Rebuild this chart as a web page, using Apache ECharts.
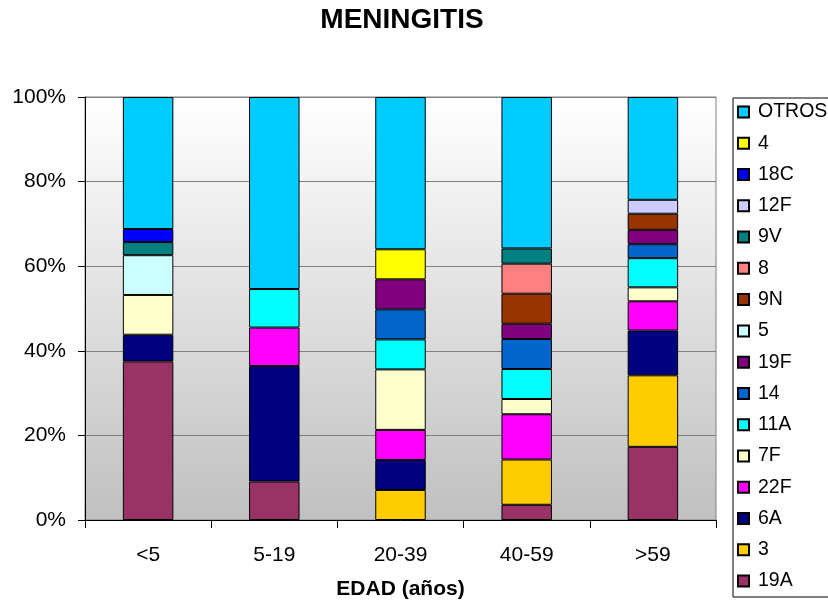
<!DOCTYPE html>
<html>
<head>
<meta charset="utf-8">
<script src="https://cdn.jsdelivr.net/npm/echarts@6/dist/echarts.min.js"></script>
<style>html,body{margin:0;padding:0;background:#fff}#c{width:828px;height:600px}</style>
</head>
<body>
<div id="c"></div>
<script>
var categories = ['<5', '5-19', '20-39', '40-59', '>59'];
var yTicks = [0, 20, 40, 60, 80, 100];
// stacking order bottom -> top
var serotypes = ['19A', '3', '6A', '22F', '7F', '11A', '14', '19F', '5', '9N', '8', '9V', '12F', '18C', '4', 'OTROS'];
var v19A  = [37.5, 9.1, null, 3.6, 17.3];
var v3    = [null, null, 7.1, 10.7, 16.9];
var v6A   = [6.3, 27.3, 7.1, null, 10.6];
var v22F  = [null, 9.1, 7.1, 10.7, 6.9];
var v7F   = [9.4, null, 14.3, 3.6, 3.3];
var v11A  = [null, 9.1, 7.1, 7.1, 6.9];
var v14   = [null, null, 7.1, 7.1, 3.3];
var v19F  = [null, null, 7.1, 3.6, 3.4];
var v5    = [9.4, null, null, null, null];
var v9N   = [null, null, null, 7.1, 3.8];
var v8    = [null, null, null, 7.1, null];
var v9V   = [3.1, null, null, 3.6, null];
var v12F  = [null, null, null, null, 3.3];
var v18C  = [3.1, null, null, null, null];
var v4    = [null, null, 7.1, null, null];
var vOTROS = [31.2, 45.4, 36.0, 35.8, 24.3];
var values = [v19A, v3, v6A, v22F, v7F, v11A, v14, v19F, v5, v9N, v8, v9V, v12F, v18C, v4, vOTROS];
var colors = ['#993366', '#FFCC00', '#000080', '#FF00FF', '#FFFFCC', '#00FFFF', '#0066CC', '#800080', '#CCFFFF', '#993300', '#FF8080', '#008080', '#CCCCFF', '#0000FF', '#FFFF00', '#00CCFF'];

var FONT = '"Liberation Sans", Arial, sans-serif';
var chart = echarts.init(document.getElementById('c'), null, {renderer: 'canvas'});

var series = serotypes.map(function (name, i) {
  return {
    name: name,
    type: 'bar',
    stack: 'total',
    barWidth: '40%',
    data: values[i],
    itemStyle: {color: colors[i], borderColor: '#000', borderWidth: 1},
    emphasis: {disabled: true}
  };
});

chart.setOption({
  animation: false,
  textStyle: {fontFamily: FONT},
  title: {
    text: 'MENINGITIS',
    left: 402,
    textAlign: 'center',
    top: 6,
    padding: 0,
    textStyle: {fontFamily: FONT, fontSize: 28, fontWeight: 'bold', color: '#000'}
  },
  grid: {
    left: 85, right: 112, top: 97, bottom: 80,
    outerBoundsMode: 'none',
    containLabel: false,
    show: true,
    borderColor: '#808080',
    borderWidth: 1,
    backgroundColor: new echarts.graphic.LinearGradient(0, 0, 0, 1, [
      {offset: 0, color: '#FFFFFF'},
      {offset: 1, color: '#C0C0C0'}
    ])
  },
  legend: {
    orient: 'vertical',
    left: 737,
    top: 102,
    padding: 0,
    itemWidth: 11,
    itemHeight: 11,
    itemGap: 11.27,
    icon: 'rect',
    data: serotypes.slice().reverse(),
    textStyle: {fontFamily: FONT, fontSize: 19.5, color: '#000', lineHeight: 20, padding: [0, 0, 0, 4]}
  },
  xAxis: {
    type: 'category',
    data: categories,
    name: 'EDAD (años)',
    nameLocation: 'middle',
    nameGap: 59,
    nameTextStyle: {fontFamily: FONT, fontSize: 21, fontWeight: 'bold', color: '#000', verticalAlign: 'top'},
    axisLine: {lineStyle: {color: '#000', width: 1}},
    axisTick: {show: true, length: 8, lineStyle: {color: '#000'}},
    axisLabel: {fontFamily: FONT, fontSize: 21, color: '#000', margin: 25}
  },
  yAxis: {
    type: 'value',
    min: yTicks[0],
    max: yTicks[yTicks.length - 1],
    interval: yTicks[1] - yTicks[0],
    axisLine: {show: true, lineStyle: {color: '#000', width: 1}},
    axisTick: {show: true, length: 7, lineStyle: {color: '#000'}},
    axisLabel: {fontFamily: FONT, fontSize: 21, color: '#000', margin: 19, formatter: '{value}%'},
    splitLine: {show: true, lineStyle: {color: '#808080', width: 1}}
  },
  graphic: [{
    type: 'rect',
    left: 730.5, top: 95.5,
    shape: {x: 0, y: 0, width: 120, height: 499},
    style: {fill: 'none', stroke: '#000', lineWidth: 1},
    z: -1
  }],
  series: series
});
</script>
</body>
</html>
